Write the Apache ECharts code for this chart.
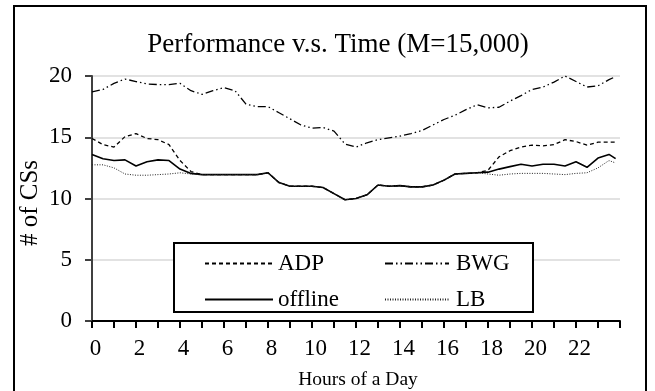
<!DOCTYPE html>
<html>
<head>
<meta charset="utf-8">
<script src="https://cdn.jsdelivr.net/npm/echarts@6/dist/echarts.min.js"></script>
<style>
html,body{margin:0;padding:0;background:#fff;}
#chart{width:655px;height:391px;}
</style>
</head>
<body>
<div id="chart"></div>
<script>
var hours = [0,0.5,1,1.5,2,2.5,3,3.5,4,4.5,5,5.5,6,6.5,7,7.5,8,8.5,9,9.5,10,10.5,11,11.5,12,12.5,13,13.5,14,14.5,15,15.5,16,16.5,17,17.5,18,18.5,19,19.5,20,20.5,21,21.5,22,22.5,23,23.5,23.8];

var offline = [13.6,13.25,13.1,13.15,12.65,13.0,13.15,13.1,12.4,12.05,11.95,11.95,11.95,11.95,11.95,11.95,12.1,11.3,11.0,11.0,11.0,10.9,10.4,9.9,10.0,10.3,11.1,11.0,11.05,10.95,10.95,11.1,11.5,12.0,12.05,12.1,12.15,12.4,12.6,12.8,12.65,12.8,12.8,12.65,13.0,12.55,13.3,13.6,13.25];

var adp = [14.9,14.4,14.2,15.05,15.3,14.9,14.8,14.4,13.1,12.2,11.95,11.95,11.95,11.95,11.95,11.95,12.1,11.3,11.0,11.0,11.0,10.9,10.4,9.9,10.0,10.3,11.1,11.0,11.05,10.95,10.95,11.1,11.5,12.0,12.05,12.1,12.3,13.4,13.9,14.2,14.35,14.3,14.4,14.8,14.65,14.35,14.6,14.6,14.6];

var lb = [12.75,12.75,12.5,12.0,11.9,11.9,11.95,12.0,12.1,12.0,11.95,11.95,11.95,11.95,11.95,11.95,12.1,11.3,11.0,11.0,11.0,10.9,10.4,9.9,10.0,10.3,11.1,11.0,11.05,10.95,10.95,11.1,11.5,12.0,12.05,12.1,12.0,11.9,12.0,12.05,12.05,12.05,12.0,11.95,12.05,12.1,12.5,13.1,12.9];

var bwg = [18.7,18.9,19.4,19.75,19.55,19.35,19.3,19.3,19.4,18.8,18.5,18.8,19.05,18.8,17.7,17.5,17.5,17.0,16.5,16.0,15.75,15.8,15.5,14.45,14.2,14.55,14.8,14.95,15.1,15.3,15.55,16.0,16.45,16.8,17.25,17.65,17.4,17.45,17.95,18.4,18.9,19.1,19.5,20.0,19.55,19.1,19.2,19.7,19.95];

var xTickLabels = ['0','2','4','6','8','10','12','14','16','18','20','22'];
var yTickLabels = ['0','5','10','15','20'];

var FONT = "'Liberation Serif','Times New Roman',serif";

function pairs(vals){ return hours.map(function(h,i){ return [h, vals[i]]; }); }

var chart = echarts.init(document.getElementById('chart'), null, {renderer:'canvas'});
var option = {
  animation:false,
  backgroundColor:'#fff',
  grid:{left:92, right:35, top:76, bottom:70, containLabel:false},
  xAxis:{
    type:'value', min:0, max:24, interval:1,
    axisLine:{show:true, lineStyle:{color:'#000', width:2}},
    axisTick:{show:true, length:7, lineStyle:{color:'#000', width:2}},
    splitLine:{show:false},
    axisLabel:{
      color:'#000', fontFamily:FONT, fontSize:23, margin:16, padding:[0,0,0,7],
      formatter:function(v){ var s=String(v); return xTickLabels.indexOf(s)>=0 ? s : ''; }
    }
  },
  yAxis:{
    type:'value', min:0, max:20, interval:5,
    axisLine:{show:true, lineStyle:{color:'#404040', width:2}},
    axisTick:{show:true, length:7, lineStyle:{color:'#404040', width:2}},
    splitLine:{show:true, lineStyle:{color:'#d9d9d9', width:1.5}},
    axisLabel:{
      color:'#000', fontFamily:FONT, fontSize:23, margin:20,
      formatter:function(v){ var s=String(v); return yTickLabels.indexOf(s)>=0 ? s : ''; }
    }
  },
  legend:[
    {
      orient:'vertical', left:199, top:247, itemWidth:68, itemHeight:14, itemGap:13,
      data:['ADP','offline'], z:10, itemStyle:{opacity:0},
      textStyle:{color:'#000', fontFamily:FONT, fontSize:23, padding:[0,0,0,0]}
    },
    {
      orient:'vertical', left:379, top:247, itemWidth:64, itemHeight:14, itemGap:13,
      data:['BWG','LB'], z:10, itemStyle:{opacity:0},
      textStyle:{color:'#000', fontFamily:FONT, fontSize:23, padding:[0,0,0,2]}
    }
  ],
  graphic:[
    {type:'rect', z:100, silent:true, shape:{x:14, y:6, width:632, height:400},
      style:{fill:'none', stroke:'#000', lineWidth:2}},
    {type:'rect', z:5, silent:true, shape:{x:174, y:243, width:359, height:69},
      style:{fill:'#fff', stroke:'#000', lineWidth:2}},
    {type:'text', z:10, silent:true, x:338, y:45,
      style:{text:'Performance v.s. Time (M=15,000)', fill:'#000', font:'27px '+FONT, textAlign:'center', textVerticalAlign:'middle'}},
    {type:'text', z:10, silent:true, x:30, y:203, rotation:Math.PI/2,
      style:{text:'# of CSs', fill:'#000', font:'25px '+FONT, textAlign:'center', textVerticalAlign:'middle'}},
    {type:'text', z:10, silent:true, x:358, y:380,
      style:{text:'Hours of a Day', fill:'#000', font:'19.5px '+FONT, textAlign:'center', textVerticalAlign:'middle'}}
  ],
  series:[
    {name:'ADP', type:'line', data:pairs(adp), symbol:'none', z:3,
      lineStyle:{color:'#000', width:1.3, type:[4,3]}, itemStyle:{color:'#000'}},
    {name:'BWG', type:'line', data:pairs(bwg), symbol:'none', z:3,
      lineStyle:{color:'#000', width:1.3, type:[8,3,1.5,3,1.5,3]}, itemStyle:{color:'#000'}},
    {name:'offline', type:'line', data:pairs(offline), symbol:'none', z:3,
      lineStyle:{color:'#000', width:1.6, type:'solid'}, itemStyle:{color:'#000'}},
    {name:'LB', type:'line', data:pairs(lb), symbol:'none', z:3,
      lineStyle:{color:'#222', width:1, type:[1,1.5]}, itemStyle:{color:'#222'}}
  ]
};
chart.setOption(option);
</script>
</body>
</html>
